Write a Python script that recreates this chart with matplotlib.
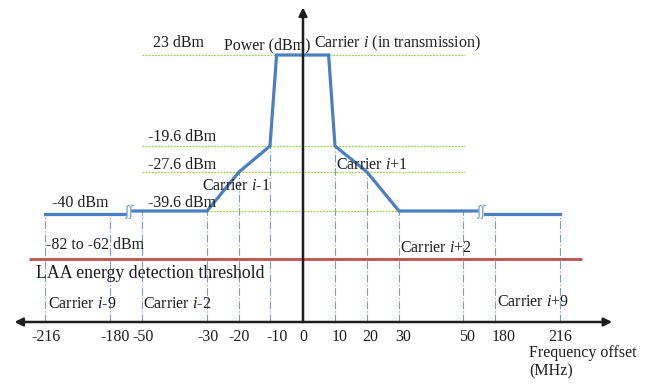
import numpy as np
import matplotlib.pyplot as plt

plt.rcParams['font.family'] = ['Liberation Serif', 'DejaVu Sans']
plt.rcParams['mathtext.fontset'] = 'custom'
plt.rcParams['mathtext.rm'] = 'Liberation Serif'
plt.rcParams['mathtext.it'] = 'Liberation Serif:italic'

# frequency offsets (MHz) marked on the axis
freq_ticks = [-216, -180, -50, -30, -20, -10, 0, 10, 20, 30, 50, 180, 216]
tick_labels = ['-216', '-180', '-50', '-30', '-20', '-10', '0',
               '10', '20', '30', '50', '180', '216']

# emission mask of carrier i (dBm), split where the axis is broken
mask_freq = [-87, -30, -20, -10, -8, 8, 10, 20, 30, 107]
mask_dbm = [-39.6, -39.6, -27.6, -19.6, 23, 23, -19.6, -27.6, -39.6, -39.6]
far_left_freq = [-216, -119]
far_right_freq = [139, 216]
far_dbm = [-40, -40]

# level of the mask at each marked offset (top of the guide lines)
guide_top = [-40, -40, -39.6, -39.6, -27.6, -19.6, None,
             -19.6, -27.6, -39.6, -39.6, -40, -40]

ref_levels = [23, -19.6, -27.6, -39.6]
ref_labels = ['23 dBm', '-19.6 dBm', '-27.6 dBm', '-39.6 dBm']
thr_range = (-82, -62)
floor_dbm = -100

# piecewise scales: the axis is not linear in MHz or dBm
x_nodes = [-241, -216, -180, -50, -30, -20, -10, 0, 10, 20, 30, 50, 180, 216, 266]
x_pos = [0, 45, 110, 142, 207, 239, 270, 303, 335, 367, 399, 463, 495, 560, 650]
y_nodes = [-130, -100, -72, -40, -39.6, -27.6, -19.6, 23, 60]
y_pos = [0, 62, 125, 170, 173, 212, 238, 329, 384]


def fwd_x(v):
    return np.interp(v, x_nodes, x_pos)


def inv_x(p):
    return np.interp(p, x_pos, x_nodes)


def fwd_y(v):
    return np.interp(v, y_nodes, y_pos)


def inv_y(p):
    return np.interp(p, y_pos, y_nodes)


fig = plt.figure(figsize=(6.5, 3.84), dpi=100)
ax = fig.add_axes([0, 0, 1, 1])
ax.set_xscale('function', functions=(fwd_x, inv_x))
ax.set_yscale('function', functions=(fwd_y, inv_y))
ax.set_xlim(-241, 266)
ax.set_ylim(-130, 60)
ax.axis('off')

blue = '#4a7fc1'
guide = '#6fa3d8'
green = '#9bd35a'
ink = '#1e1e1e'

# dotted reference levels
for lvl in ref_levels[:3]:
    ax.hlines(lvl, -50, 60, color=green, lw=0.9, linestyles=(0, (1.5, 1)), zorder=1)
ax.hlines(ref_levels[3], -30, 75, color=green, lw=0.9, linestyles=(0, (1.5, 1)), zorder=1)

# dash-dot guides down to the frequency axis
for f, top in zip(freq_ticks, guide_top):
    if top is None:
        continue
    ax.vlines(f, floor_dbm, top, color=guide, lw=0.8,
              linestyles=(0, (7, 2, 1, 2)), zorder=1)

# threshold band drawn at its centre
thr = np.mean(thr_range)
ax.hlines(thr, -225, 228, color='#c0504d', lw=2, zorder=2)

# mask
ax.plot(mask_freq, mask_dbm, color=blue, lw=2.3, solid_joinstyle='miter', zorder=3)
ax.plot(far_left_freq, far_dbm, color=blue, lw=2.3, zorder=3)
ax.plot(far_right_freq, far_dbm, color=blue, lw=2.3, zorder=3)
for f in (-103, 123):
    ax.text(f, -39.8, 'ʃʃ', family='DejaVu Sans', fontsize=10, color=guide,
            ha='center', va='center', zorder=4)

# axes with arrows
ax.annotate('', xy=(-233, floor_dbm), xytext=(245, floor_dbm),
            arrowprops=dict(arrowstyle='<|-|>', color=ink, lw=1.8,
                            mutation_scale=12, shrinkA=0, shrinkB=0), zorder=5)
ax.annotate('', xy=(0, 55), xytext=(0, floor_dbm),
            arrowprops=dict(arrowstyle='-|>', color=ink, lw=1.8,
                            mutation_scale=12, shrinkA=0, shrinkB=0), zorder=5)


def note(x, y, s, dx, dy, ha='left', va='center', size=11.5):
    # dx, dy in pixels, dy counted downwards
    ax.annotate(s, (x, y), xytext=(dx * 0.72, -dy * 0.72),
                textcoords='offset points', ha=ha, va=va,
                fontsize=size, color=ink, zorder=6)


# tick labels
tick_dx = [1, 5, 1, 1, 0, 7, 0, 5, 3, 4, 4, 9, 0]
for f, lab, dx in zip(freq_ticks, tick_labels, tick_dx):
    note(f, floor_dbm, lab, dx, 15, ha='center')

# level labels
label_dy = [-12, -9, -7, -8]
for lvl, lab, dy in zip(ref_levels, ref_labels, label_dy):
    note(-50, lvl, lab, 11 if lvl == 23 else 6, dy)
note(-216, -40, '-40 dBm', 7, -11)
note(-216, thr, '%d to %d dBm' % thr_range, 1, -14)
note(-216, thr, 'LAA energy detection threshold', -9, 14, size=12.8)

# carrier labels
note(0, 23, 'Power (dBm)', 8, -10, ha='right')
note(0, 23, r'Carrier $\mathit{i}$ (in transmission)', 11, -12)
note(-10, -19.6, r'Carrier $\mathit{i}$-1', 0, 40, ha='right')
note(10, -19.6, r'Carrier $\mathit{i}$+1', 1, 19)
note(30, thr, r'Carrier $\mathit{i}$+2', 1, -11)
note(-216, floor_dbm, r'Carrier $\mathit{i}$-9', 3, -18)
note(-50, floor_dbm, r'Carrier $\mathit{i}$-2', 1, -18)
note(180, floor_dbm, r'Carrier $\mathit{i}$+9', 2, -20)
note(216, floor_dbm, 'Frequency offset\n(MHz)', -31, 23, va='top')

fig.savefig('out.png', dpi=100)
